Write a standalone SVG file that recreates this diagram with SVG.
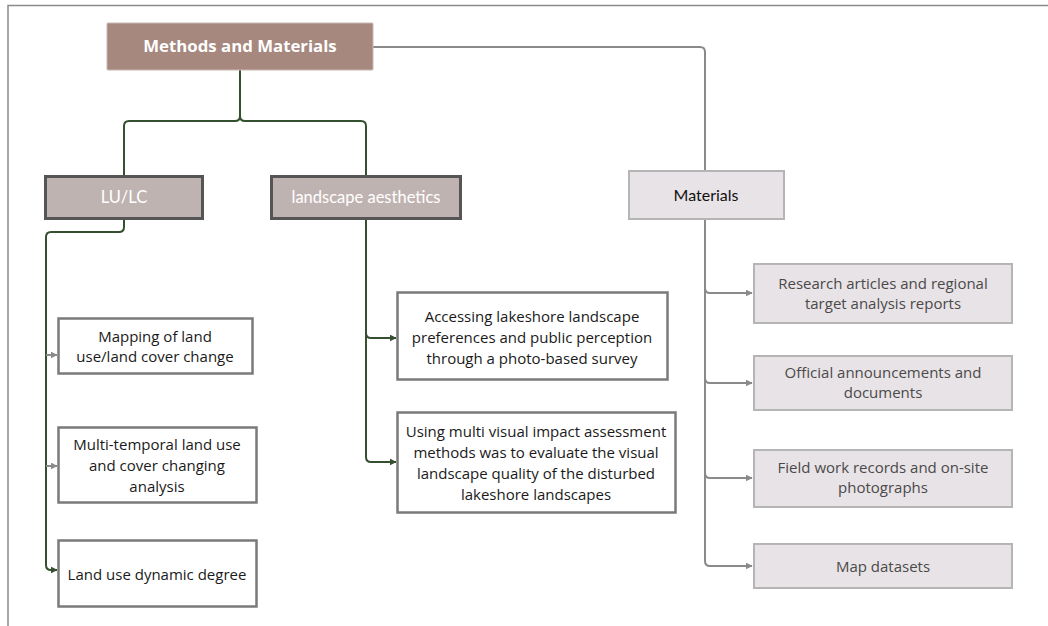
<svg xmlns="http://www.w3.org/2000/svg" width="1048" height="626" viewBox="0 0 1048 626">
  <defs>
    <style>
      .frame { fill: none; stroke: #8a8a8a; stroke-width: 1.5; }
      .green { fill: none; stroke: #34502f; stroke-width: 2; stroke-linejoin: round; }
      .grey { fill: none; stroke: #8a8a8a; stroke-width: 2; stroke-linejoin: round; }
      .root rect { fill: #a6887e; stroke: #c9b8b2; stroke-width: 1; }
      .root text { fill: #ffffff; font-family: "Open Sans", "Liberation Sans", sans-serif; font-weight: 700; font-size: 16.8px; text-anchor: middle; }
      .cat rect { fill: #bfb3b1; stroke: #555555; stroke-width: 3; }
      .cat text { fill: #ffffff; font-family: Lato, "Liberation Sans", sans-serif; font-size: 16.5px; text-anchor: middle; }
      .mat rect { fill: #e8e3e6; stroke: #b5b5b5; stroke-width: 2; }
      .mat text { fill: #111111; font-family: Lato, "Liberation Sans", sans-serif; font-size: 16px; text-anchor: middle; }
      .leaf rect { fill: #ffffff; stroke: #7a7a7a; stroke-width: 2.5; }
      .leaf text { fill: #1a1a1a; font-family: "Open Sans", "Noto Sans", sans-serif; font-size: 15px; text-anchor: middle; }
      .res rect { fill: #e8e3e6; stroke: #b5b5b5; stroke-width: 2; }
      .res text { fill: #4a4a4a; font-family: "Open Sans", "Noto Sans", sans-serif; font-size: 15px; text-anchor: middle; }
    </style>
    <marker id="ah-green" viewBox="0 0 10 10" refX="9" refY="5" markerWidth="7" markerHeight="7" markerUnits="userSpaceOnUse" orient="auto">
      <path d="M0,0 L10,5 L0,10 z" fill="#34502f"/>
    </marker>
    <marker id="ah-grey" viewBox="0 0 10 10" refX="9" refY="5" markerWidth="7" markerHeight="7" markerUnits="userSpaceOnUse" orient="auto">
      <path d="M0,0 L10,5 L0,10 z" fill="#8a8a8a"/>
    </marker>
  </defs>

  <!-- page frame -->
  <path class="frame" d="M8,626 V5.5 H1048"/>

  <g id="connectors">
    <!-- root to the two method branches -->
    <path class="green" d="M240,70 V116 Q240,121 235,121 H129 Q124,121 124,126 V175"/>
    <path class="green" d="M240,116 Q240,121 245,121 H361 Q366,121 366,126 V175"/>
    <!-- root to Materials -->
    <path class="grey" d="M373,47 H700 Q705,47 705,52 V170"/>
    <!-- LU/LC children -->
    <path class="green" d="M124,219 V227 Q124,232 119,232 H51 Q46,232 46,237 V565 Q46,570 51,570 H57" marker-end="url(#ah-green)"/>
    <path class="grey" d="M46,355 H57" marker-end="url(#ah-grey)"/>
    <path class="grey" d="M46,466 H57" marker-end="url(#ah-grey)"/>
    <!-- landscape aesthetics children -->
    <path class="green" d="M366,219 V333 Q366,338 371,338 H396" marker-end="url(#ah-green)"/>
    <path class="green" d="M366,333 V457 Q366,462 371,462 H396" marker-end="url(#ah-green)"/>
    <!-- Materials children -->
    <path class="grey" d="M705,219 V561 Q705,566 710,566 H752" marker-end="url(#ah-grey)"/>
    <path class="grey" d="M705,288 Q705,293 710,293 H752" marker-end="url(#ah-grey)"/>
    <path class="grey" d="M705,378 Q705,383 710,383 H752" marker-end="url(#ah-grey)"/>
    <path class="grey" d="M705,473 Q705,478 710,478 H752" marker-end="url(#ah-grey)"/>
  </g>

  <g id="root" class="root">
    <rect x="107" y="23" width="266" height="47" rx="1"/>
    <text x="240" y="52">Methods and Materials</text>
  </g>

  <g id="lulc" class="cat">
    <rect x="45.5" y="176.5" width="157" height="42"/>
    <text x="124" y="203">LU/LC</text>
  </g>

  <g id="aesthetics" class="cat">
    <rect x="271.5" y="176.5" width="189" height="42"/>
    <text x="366" y="203">landscape aesthetics</text>
  </g>

  <g id="materials" class="mat">
    <rect x="629" y="171" width="155" height="48"/>
    <text x="706" y="201">Materials</text>
  </g>

  <g id="mapping" class="leaf">
    <rect x="58.5" y="318.5" width="194" height="55"/>
    <text x="155" y="342">Mapping of land</text>
    <text x="155" y="362">use/land cover change</text>
  </g>

  <g id="multitemporal" class="leaf">
    <rect x="58.5" y="427.5" width="198" height="75"/>
    <text x="157" y="450">Multi-temporal land use</text>
    <text x="157" y="471">and cover changing</text>
    <text x="157" y="492">analysis</text>
  </g>

  <g id="dynamic" class="leaf">
    <rect x="58.5" y="540.5" width="198" height="66"/>
    <text x="157" y="580">Land use dynamic degree</text>
  </g>

  <g id="survey" class="leaf">
    <rect x="397.5" y="292.5" width="270" height="87"/>
    <text x="532" y="322">Accessing lakeshore landscape</text>
    <text x="532" y="343">preferences and public perception</text>
    <text x="532" y="364">through a photo-based survey</text>
  </g>

  <g id="via" class="leaf">
    <rect x="397.5" y="412.5" width="278" height="100"/>
    <text x="536" y="437">Using multi visual impact assessment</text>
    <text x="536" y="458">methods was to evaluate the visual</text>
    <text x="536" y="479">landscape quality of the disturbed</text>
    <text x="536" y="500">lakeshore landscapes</text>
  </g>

  <g id="research" class="res">
    <rect x="754" y="264" width="258" height="59"/>
    <text x="883" y="289">Research articles and regional</text>
    <text x="883" y="309">target analysis reports</text>
  </g>

  <g id="official" class="res">
    <rect x="754" y="356" width="258" height="54"/>
    <text x="883" y="378">Official announcements and</text>
    <text x="883" y="398">documents</text>
  </g>

  <g id="fieldwork" class="res">
    <rect x="754" y="450" width="258" height="57"/>
    <text x="883" y="473">Field work records and on-site</text>
    <text x="883" y="493">photographs</text>
  </g>

  <g id="mapdata" class="res">
    <rect x="754" y="544" width="258" height="44"/>
    <text x="883" y="572">Map datasets</text>
  </g>
</svg>
